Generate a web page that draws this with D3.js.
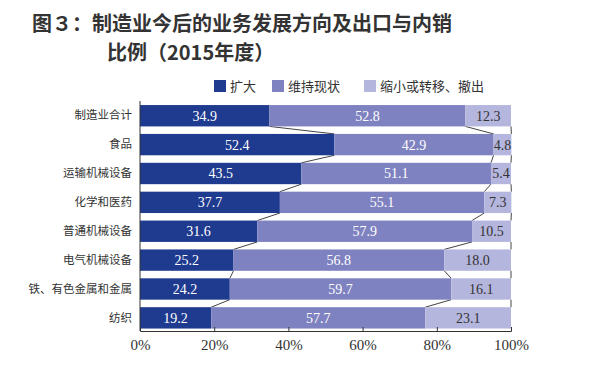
<!doctype html>
<html>
<head>
<meta charset="utf-8"/>
<script src="https://cdnjs.cloudflare.com/ajax/libs/d3/7.8.5/d3.min.js"></script>
<style>
  body { margin: 0; background: #fff; }
  svg { display: block; }
</style>
</head>
<body>
<svg width="600" height="376"></svg>
<script>
  var categories = ["制造业合计", "食品", "运输机械设备", "化学和医药", "普通机械设备", "电气机械设备", "铁、有色金属和金属", "纺织"];
  var seriesNames = ["扩大", "维持现状", "缩小或转移、撤出"];
  var expand = [34.9, 52.4, 43.5, 37.7, 31.6, 25.2, 24.2, 19.2];
  var keep = [52.8, 42.9, 51.1, 55.1, 57.9, 56.8, 59.7, 57.7];
  var shrink = [12.3, 4.8, 5.4, 7.3, 10.5, 18.0, 16.1, 23.1];
  var xTicks = [0, 20, 40, 60, 80, 100];
  var colors = ["#1f3b8f", "#7f82c0", "#b5b6dd"];
  var textColors = ["#fff", "#fff", "#333"];

  var svg = d3.select("svg");
  var cjk = "'Noto Sans CJK SC', sans-serif";
  var serif = "'Liberation Serif', 'DejaVu Serif', serif";

  // title
  var title = svg.append("g").attr("font-family", cjk).attr("font-weight", "bold")
    .attr("font-size", 20).attr("fill", "#333");
  title.append("text").attr("x", 32).attr("y", 31).text("图３：制造业今后的业务发展方向及出口与内销");
  title.append("text").attr("x", 107).attr("y", 60).text("比例（2015年度）");

  var rows = categories.map(function (c, i) {
    return { name: c, values: [expand[i], keep[i], shrink[i]] };
  });
  var stack = d3.stack().keys([0, 1, 2]).value(function (d, k) { return d.values[k]; });
  var layers = stack(rows);

  var x = d3.scaleLinear().domain([0, 100]).range([140, 511]);
  var y = d3.scaleBand().domain(categories).range([101.3, 332.3]).paddingInner(0.26).paddingOuter(0.13);

  // connector lines between bars
  layers.forEach(function (layer, k) {
    for (var i = 0; i < layer.length - 1; i++) {
      svg.append("line")
        .attr("x1", x(layer[i][1])).attr("y1", y(categories[i]) + y.bandwidth())
        .attr("x2", x(layer[i + 1][1])).attr("y2", y(categories[i + 1]))
        .attr("stroke", "#444").attr("stroke-width", 1);
    }
  });

  // bars
  layers.forEach(function (layer, k) {
    var g = svg.append("g");
    g.selectAll("rect").data(layer).enter().append("rect")
      .attr("x", function (d) { return x(d[0]); })
      .attr("width", function (d) { return x(d[1]) - x(d[0]); })
      .attr("y", function (d, i) { return y(categories[i]); })
      .attr("height", y.bandwidth())
      .attr("fill", colors[k]);
    g.selectAll("text").data(layer).enter().append("text")
      .attr("x", function (d) { return (x(d[0]) + x(d[1])) / 2; })
      .attr("y", function (d, i) { return y(categories[i]) + y.bandwidth() / 2 + 5; })
      .attr("text-anchor", "middle")
      .attr("font-family", serif).attr("font-size", 14)
      .attr("fill", textColors[k])
      .text(function (d) { return (d[1] - d[0]).toFixed(1); });
  });

  // x axis
  var xAxis = d3.axisBottom(x).tickValues(xTicks).tickSize(-4).tickFormat(function (d) { return d + "%"; });
  var xg = svg.append("g").attr("transform", "translate(0,331)").call(xAxis);
  xg.select(".domain").attr("stroke", "#333");
  xg.selectAll(".tick line").attr("stroke", "#333");
  xg.selectAll(".tick text").attr("font-family", serif).attr("font-size", 15)
    .attr("fill", "#333").attr("dy", "1.05em");

  // y axis
  var yAxis = d3.axisLeft(y).tickSize(0).tickPadding(8);
  var yg = svg.append("g").attr("transform", "translate(140,0)").call(yAxis);
  yg.select(".domain").attr("d", "M0,101V331").attr("stroke", "#333");
  yg.selectAll(".tick text").attr("font-family", cjk).attr("font-size", 11.5).attr("fill", "#333");

  // legend
  var legendX = [214, 272, 364];
  var legend = svg.append("g");
  seriesNames.forEach(function (n, k) {
    legend.append("rect").attr("x", legendX[k]).attr("y", 80).attr("width", 12).attr("height", 12).attr("fill", colors[k]);
    legend.append("text").attr("x", legendX[k] + 16).attr("y", 91)
      .attr("font-family", cjk).attr("font-size", 13).attr("fill", "#333").text(n);
  });
</script>
</body>
</html>
